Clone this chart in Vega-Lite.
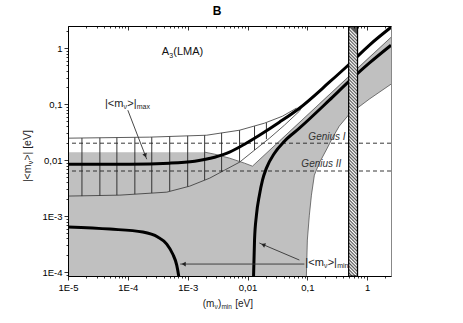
{
  "$schema": "https://vega.github.io/schema/vega-lite/v6.json",
  "width": 323,
  "height": 250,
  "autosize": "none",
  "padding": {"left": 68, "top": 26, "right": 72, "bottom": 47},
  "background": "white",
  "config": {"view": {"stroke": "#888", "strokeWidth": 1}, "font": "Liberation Sans"},
  "resolve": {"axis": {"x": "independent", "y": "independent"}},
  "datasets": {
    "gray": [
      {"m": 1e-5, "top": 0.0139, "bot": 8e-5},
      {"m": 0.00192, "top": 0.0139, "bot": 8e-5},
      {"m": 0.00282, "top": 0.0128, "bot": 8e-5},
      {"m": 0.00501, "top": 0.01086, "bot": 8e-5},
      {"m": 0.00891, "top": 0.00884, "bot": 8e-5},
      {"m": 0.0121, "top": 0.00781, "bot": 8e-5},
      {"m": 0.0233, "top": 0.01503, "bot": 8e-5},
      {"m": 0.0501, "top": 0.0324, "bot": 8e-5},
      {"m": 0.0962, "top": 0.0623, "bot": 8e-5},
      {"m": 0.1, "top": 0.0647, "bot": 0.000373},
      {"m": 0.108, "top": 0.07, "bot": 0.00104},
      {"m": 0.117, "top": 0.0756, "bot": 0.00237},
      {"m": 0.131, "top": 0.0849, "bot": 0.0054},
      {"m": 0.158, "top": 0.1025, "bot": 0.00884},
      {"m": 0.215, "top": 0.1395, "bot": 0.0164},
      {"m": 0.261, "top": 0.169, "bot": 0.0247},
      {"m": 0.341, "top": 0.221, "bot": 0.0405},
      {"m": 0.501, "top": 0.3255, "bot": 0.0663},
      {"m": 1.08, "top": 0.702, "bot": 0.123},
      {"m": 2.5, "top": 1.57, "bot": 0.228}
    ],
    "grayTop": [
      {"m": 0.00192, "y": 0.0139},
      {"m": 0.00282, "y": 0.0128},
      {"m": 0.00501, "y": 0.01086},
      {"m": 0.00891, "y": 0.00884},
      {"m": 0.0121, "y": 0.00781},
      {"m": 2.5, "y": 1.57}
    ],
    "grayBot": [
      {"m": 0.0962, "y": 8e-5},
      {"m": 0.1, "y": 0.000373},
      {"m": 0.108, "y": 0.00104},
      {"m": 0.117, "y": 0.00237},
      {"m": 0.131, "y": 0.0054},
      {"m": 0.158, "y": 0.00884},
      {"m": 0.215, "y": 0.0164},
      {"m": 0.261, "y": 0.0247},
      {"m": 0.341, "y": 0.0405},
      {"m": 0.501, "y": 0.0663},
      {"m": 1.08, "y": 0.123},
      {"m": 2.5, "y": 0.228}
    ],
    "hatch": [
      {"m": 1.71e-5, "lo": 0.00228, "hi": 0.0249},
      {"m": 3.41e-5, "lo": 0.00231, "hi": 0.0251},
      {"m": 6.56e-5, "lo": 0.00237, "hi": 0.0253},
      {"m": 0.000131, "lo": 0.00247, "hi": 0.0255},
      {"m": 0.000251, "lo": 0.00258, "hi": 0.0258},
      {"m": 0.000501, "lo": 0.00279, "hi": 0.0265},
      {"m": 0.001, "lo": 0.00336, "hi": 0.0272},
      {"m": 0.00192, "lo": 0.0044, "hi": 0.0279},
      {"m": 0.00369, "lo": 0.0062, "hi": 0.0307},
      {"m": 0.00736, "lo": 0.0092, "hi": 0.0343},
      {"m": 0.0131, "lo": 0.0151, "hi": 0.0405},
      {"m": 0.0207, "lo": 0.0237, "hi": 0.0466}
    ],
    "invUp": [
      {"m": 1e-5, "y": 0.0247},
      {"m": 0.000233, "y": 0.0258},
      {"m": 0.00207, "y": 0.0279},
      {"m": 0.00736, "y": 0.0343},
      {"m": 0.0192, "y": 0.0458},
      {"m": 0.0383, "y": 0.061},
      {"m": 0.0656, "y": 0.0849}
    ],
    "invLo": [
      {"m": 1e-5, "y": 0.00228},
      {"m": 7.36e-5, "y": 0.00237},
      {"m": 0.000447, "y": 0.00268},
      {"m": 0.00108, "y": 0.00343},
      {"m": 0.00233, "y": 0.00477},
      {"m": 0.00414, "y": 0.00663},
      {"m": 0.00736, "y": 0.0092},
      {"m": 0.0131, "y": 0.0151},
      {"m": 0.0233, "y": 0.0247},
      {"m": 0.0414, "y": 0.0422},
      {"m": 0.0736, "y": 0.075},
      {"m": 0.0826, "y": 0.092}
    ],
    "upper": [
      {"m": 1e-5, "y": 0.00849},
      {"m": 0.000108, "y": 0.00849},
      {"m": 0.000501, "y": 0.00884},
      {"m": 0.00131, "y": 0.0096},
      {"m": 0.00282, "y": 0.0113},
      {"m": 0.00501, "y": 0.0139},
      {"m": 0.00891, "y": 0.0193},
      {"m": 0.0158, "y": 0.0279},
      {"m": 0.0341, "y": 0.0477},
      {"m": 0.0736, "y": 0.0849},
      {"m": 0.233, "y": 0.247},
      {"m": 0.501, "y": 0.518},
      {"m": 1.08, "y": 1.13},
      {"m": 2.5, "y": 2.37}
    ],
    "second": [
      {"m": 0.0126, "y": 8e-5},
      {"m": 0.0131, "y": 0.000373},
      {"m": 0.0141, "y": 0.00104},
      {"m": 0.0158, "y": 0.00237},
      {"m": 0.0178, "y": 0.0044},
      {"m": 0.0207, "y": 0.0072},
      {"m": 0.0282, "y": 0.0133},
      {"m": 0.0414, "y": 0.0218},
      {"m": 0.0736, "y": 0.0373},
      {"m": 0.233, "y": 0.118},
      {"m": 0.501, "y": 0.258},
      {"m": 1.08, "y": 0.54},
      {"m": 2.5, "y": 1.13}
    ],
    "lower": [
      {"m": 1e-5, "y": 0.00064},
      {"m": 5.01e-5, "y": 0.000586},
      {"m": 0.000178, "y": 0.000518},
      {"m": 0.000316, "y": 0.000422},
      {"m": 0.000447, "y": 0.000316},
      {"m": 0.000562, "y": 0.00021},
      {"m": 0.000656, "y": 0.000133},
      {"m": 0.000708, "y": 8.5e-5},
      {"m": 0.000725, "y": 7e-5}
    ],
    "genius": [{"y": 0.0201}, {"y": 0.0064}],
    "band": [{"m1": 0.49, "m2": 0.69, "y1": 8.5e-5, "y2": 2.5}],
    "arrows": [
      {"m1": 0.0001, "y1": 0.0781, "m2": 0.000207, "y2": 0.0104},
      {"m1": 0.0891, "y1": 0.000139, "m2": 0.00075, "y2": 0.000139},
      {"m1": 0.0736, "y1": 0.000164, "m2": 0.0158, "y2": 0.00033}
    ],
    "h1": [{"m": 0.000196, "y": 0.0121}],
    "h2": [{"m": 0.000858, "y": 0.000139}],
    "h3": [{"m": 0.0183, "y": 0.000308}],
    "amax": [{"m": 4.14e-5, "y": 0.1}],
    "amin": [{"m": 0.0926, "y": 0.000145}],
    "alma": [{"m": 0.000369, "y": 0.849}],
    "g1": [{"m": 0.104, "y": 0.0257}],
    "g2": [{"m": 0.0794, "y": 0.00849}],
    "xt": [{"m": 0.00178, "y": 8.5e-5}],
    "yt": [{"m": 1e-5, "y": 0.00405}],
    "ttl": [{"m": 0.00309, "y": 2.5}]
  },
  "layer": [
    {
      "data": {"name": "gray"},
      "mark": {"type": "area", "color": "#c0c0c0", "clip": true},
      "encoding": {
        "x": {"field": "m", "type": "quantitative",
          "scale": {"type": "log", "domain": [1e-5, 2.5], "nice": false},
          "axis": {"orient": "bottom", "title": null, "grid": false, "zindex": 2,
            "values": [0.00001, 0.0001, 0.001, 0.01, 0.1, 1],
            "labelExpr": "datum.value >= 0.01 ? replace(format(datum.value, ''), '.', ',') : '1E' + round(log(datum.value)/LN10)",
            "tickSize": 4, "labelFont": "Liberation Sans", "labelFontSize": 9.5, "labelColor": "#000",
            "labelFlush": false, "labelOverlap": false, "labelBound": false, "labelPadding": 2,
            "domainColor": "#000", "tickColor": "#000", "tickWidth": 0.8, "domainWidth": 1}},
        "y": {"field": "top", "type": "quantitative",
          "scale": {"type": "log", "domain": [8.5e-5, 2.5], "nice": false},
          "axis": {"orient": "left", "title": null, "grid": false, "zindex": 2,
            "values": [0.0001, 0.001, 0.01, 0.1, 1],
            "labelExpr": "datum.value >= 0.01 ? replace(format(datum.value, ''), '.', ',') : '1E' + round(log(datum.value)/LN10)",
            "tickSize": 4, "labelFont": "Liberation Sans", "labelFontSize": 9.5, "labelColor": "#000",
            "labelFlush": false, "labelOverlap": false, "labelBound": false, "labelPadding": 2,
            "domainColor": "#000", "tickColor": "#000", "tickWidth": 0.8, "domainWidth": 1}},
        "y2": {"field": "bot"}
      }
    },
    {
      "data": {"name": "hatch"},
      "mark": {"type": "rule", "color": "#222", "strokeWidth": 0.9, "clip": true},
      "encoding": {
        "x": {"field": "m", "type": "quantitative",
          "axis": {"orient": "top", "title": null, "grid": false, "labels": false, "zindex": 2,
            "values": [0.00001, 0.0001, 0.001, 0.01, 0.1, 1],
            "tickSize": -4, "domainColor": "#000", "tickColor": "#000", "tickWidth": 0.8, "domainWidth": 1}},
        "y": {"field": "lo", "type": "quantitative",
          "axis": {"orient": "left", "title": null, "grid": false, "labels": false, "domain": false, "zindex": 2,
            "values": [0.00009,0.0002,0.0003,0.0004,0.0005,0.0006,0.0007,0.0008,0.0009,0.002,0.003,0.004,0.005,0.006,0.007,0.008,0.009,0.02,0.03,0.04,0.05,0.06,0.07,0.08,0.09,0.2,0.3,0.4,0.5,0.6,0.7,0.8,0.9,2],
            "tickSize": 2, "tickColor": "#000", "tickWidth": 0.8}},
        "y2": {"field": "hi"}
      }
    },
    {
      "data": {"name": "invUp"},
      "mark": {"type": "line", "color": "#333", "strokeWidth": 0.8, "clip": true},
      "encoding": {
        "x": {"field": "m", "type": "quantitative",
          "axis": {"orient": "bottom", "title": null, "grid": false, "labels": false, "domain": false, "zindex": 2,
            "values": [0.00002,0.00003,0.00004,0.00005,0.00006,0.00007,0.00008,0.00009,0.0002,0.0003,0.0004,0.0005,0.0006,0.0007,0.0008,0.0009,0.002,0.003,0.004,0.005,0.006,0.007,0.008,0.009,0.02,0.03,0.04,0.05,0.06,0.07,0.08,0.09,0.2,0.3,0.4,0.5,0.6,0.7,0.8,0.9,2],
            "tickSize": 2, "tickColor": "#000", "tickWidth": 0.8}},
        "y": {"field": "y", "type": "quantitative", "axis": null}
      }
    },
    {
      "data": {"name": "invLo"},
      "mark": {"type": "line", "color": "#333", "strokeWidth": 0.8, "clip": true},
      "encoding": {
        "x": {"field": "m", "type": "quantitative",
          "axis": {"orient": "top", "title": null, "grid": false, "labels": false, "domain": false, "zindex": 2,
            "values": [0.00002,0.00003,0.00004,0.00005,0.00006,0.00007,0.00008,0.00009,0.0002,0.0003,0.0004,0.0005,0.0006,0.0007,0.0008,0.0009,0.002,0.003,0.004,0.005,0.006,0.007,0.008,0.009,0.02,0.03,0.04,0.05,0.06,0.07,0.08,0.09,0.2,0.3,0.4,0.5,0.6,0.7,0.8,0.9,2],
            "tickSize": -2, "tickColor": "#000", "tickWidth": 0.8}},
        "y": {"field": "y", "type": "quantitative", "axis": null}
      }
    },
    {
      "data": {"name": "grayTop"},
      "mark": {"type": "line", "color": "#555", "strokeWidth": 0.8, "clip": true},
      "encoding": {"x": {"field": "m", "type": "quantitative", "axis": null}, "y": {"field": "y", "type": "quantitative", "axis": null}}
    },
    {
      "data": {"name": "grayBot"},
      "mark": {"type": "line", "color": "#555", "strokeWidth": 0.8, "clip": true},
      "encoding": {"x": {"field": "m", "type": "quantitative", "axis": null}, "y": {"field": "y", "type": "quantitative", "axis": null}}
    },
    {
      "data": {"name": "genius"},
      "mark": {"type": "rule", "color": "#222", "strokeWidth": 0.9, "strokeDash": [4, 3]},
      "encoding": {"y": {"field": "y", "type": "quantitative", "axis": null}}
    },
    {
      "data": {"name": "upper"},
      "mark": {"type": "line", "color": "#000", "strokeWidth": 3, "clip": true, "interpolate": "monotone"},
      "encoding": {"x": {"field": "m", "type": "quantitative", "axis": null}, "y": {"field": "y", "type": "quantitative", "axis": null}}
    },
    {
      "data": {"name": "second"},
      "mark": {"type": "line", "color": "#000", "strokeWidth": 3, "clip": true, "interpolate": "monotone"},
      "encoding": {"x": {"field": "m", "type": "quantitative", "axis": null}, "y": {"field": "y", "type": "quantitative", "axis": null}}
    },
    {
      "data": {"name": "lower"},
      "mark": {"type": "line", "color": "#000", "strokeWidth": 3, "clip": true, "interpolate": "monotone"},
      "encoding": {"x": {"field": "m", "type": "quantitative", "axis": null}, "y": {"field": "y", "type": "quantitative", "axis": null}}
    },
    {
      "data": {"name": "band"},
      "mark": {"type": "rect", "stroke": "#000", "strokeWidth": 1.2, "clip": true,
        "fill": {"gradient": "linear", "x1": 0, "y1": 1, "x2": 0.036, "y2": 0, "stops": [
{"offset":0,"color":"#555"},{"offset":0.0067,"color":"#fff"},{"offset":0.0133,"color":"#555"},{"offset":0.02,"color":"#fff"},{"offset":0.0267,"color":"#555"},{"offset":0.0333,"color":"#fff"},{"offset":0.04,"color":"#555"},{"offset":0.0467,"color":"#fff"},{"offset":0.0533,"color":"#555"},{"offset":0.06,"color":"#fff"},
{"offset":0.0667,"color":"#555"},{"offset":0.0733,"color":"#fff"},{"offset":0.08,"color":"#555"},{"offset":0.0867,"color":"#fff"},{"offset":0.0933,"color":"#555"},{"offset":0.1,"color":"#fff"},{"offset":0.1067,"color":"#555"},{"offset":0.1133,"color":"#fff"},{"offset":0.12,"color":"#555"},{"offset":0.1267,"color":"#fff"},
{"offset":0.1333,"color":"#555"},{"offset":0.14,"color":"#fff"},{"offset":0.1467,"color":"#555"},{"offset":0.1533,"color":"#fff"},{"offset":0.16,"color":"#555"},{"offset":0.1667,"color":"#fff"},{"offset":0.1733,"color":"#555"},{"offset":0.18,"color":"#fff"},{"offset":0.1867,"color":"#555"},{"offset":0.1933,"color":"#fff"},
{"offset":0.2,"color":"#555"},{"offset":0.2067,"color":"#fff"},{"offset":0.2133,"color":"#555"},{"offset":0.22,"color":"#fff"},{"offset":0.2267,"color":"#555"},{"offset":0.2333,"color":"#fff"},{"offset":0.24,"color":"#555"},{"offset":0.2467,"color":"#fff"},{"offset":0.2533,"color":"#555"},{"offset":0.26,"color":"#fff"},
{"offset":0.2667,"color":"#555"},{"offset":0.2733,"color":"#fff"},{"offset":0.28,"color":"#555"},{"offset":0.2867,"color":"#fff"},{"offset":0.2933,"color":"#555"},{"offset":0.3,"color":"#fff"},{"offset":0.3067,"color":"#555"},{"offset":0.3133,"color":"#fff"},{"offset":0.32,"color":"#555"},{"offset":0.3267,"color":"#fff"},
{"offset":0.3333,"color":"#555"},{"offset":0.34,"color":"#fff"},{"offset":0.3467,"color":"#555"},{"offset":0.3533,"color":"#fff"},{"offset":0.36,"color":"#555"},{"offset":0.3667,"color":"#fff"},{"offset":0.3733,"color":"#555"},{"offset":0.38,"color":"#fff"},{"offset":0.3867,"color":"#555"},{"offset":0.3933,"color":"#fff"},
{"offset":0.4,"color":"#555"},{"offset":0.4067,"color":"#fff"},{"offset":0.4133,"color":"#555"},{"offset":0.42,"color":"#fff"},{"offset":0.4267,"color":"#555"},{"offset":0.4333,"color":"#fff"},{"offset":0.44,"color":"#555"},{"offset":0.4467,"color":"#fff"},{"offset":0.4533,"color":"#555"},{"offset":0.46,"color":"#fff"},
{"offset":0.4667,"color":"#555"},{"offset":0.4733,"color":"#fff"},{"offset":0.48,"color":"#555"},{"offset":0.4867,"color":"#fff"},{"offset":0.4933,"color":"#555"},{"offset":0.5,"color":"#fff"},{"offset":0.5067,"color":"#555"},{"offset":0.5133,"color":"#fff"},{"offset":0.52,"color":"#555"},{"offset":0.5267,"color":"#fff"},
{"offset":0.5333,"color":"#555"},{"offset":0.54,"color":"#fff"},{"offset":0.5467,"color":"#555"},{"offset":0.5533,"color":"#fff"},{"offset":0.56,"color":"#555"},{"offset":0.5667,"color":"#fff"},{"offset":0.5733,"color":"#555"},{"offset":0.58,"color":"#fff"},{"offset":0.5867,"color":"#555"},{"offset":0.5933,"color":"#fff"},
{"offset":0.6,"color":"#555"},{"offset":0.6067,"color":"#fff"},{"offset":0.6133,"color":"#555"},{"offset":0.62,"color":"#fff"},{"offset":0.6267,"color":"#555"},{"offset":0.6333,"color":"#fff"},{"offset":0.64,"color":"#555"},{"offset":0.6467,"color":"#fff"},{"offset":0.6533,"color":"#555"},{"offset":0.66,"color":"#fff"},
{"offset":0.6667,"color":"#555"},{"offset":0.6733,"color":"#fff"},{"offset":0.68,"color":"#555"},{"offset":0.6867,"color":"#fff"},{"offset":0.6933,"color":"#555"},{"offset":0.7,"color":"#fff"},{"offset":0.7067,"color":"#555"},{"offset":0.7133,"color":"#fff"},{"offset":0.72,"color":"#555"},{"offset":0.7267,"color":"#fff"},
{"offset":0.7333,"color":"#555"},{"offset":0.74,"color":"#fff"},{"offset":0.7467,"color":"#555"},{"offset":0.7533,"color":"#fff"},{"offset":0.76,"color":"#555"},{"offset":0.7667,"color":"#fff"},{"offset":0.7733,"color":"#555"},{"offset":0.78,"color":"#fff"},{"offset":0.7867,"color":"#555"},{"offset":0.7933,"color":"#fff"},
{"offset":0.8,"color":"#555"},{"offset":0.8067,"color":"#fff"},{"offset":0.8133,"color":"#555"},{"offset":0.82,"color":"#fff"},{"offset":0.8267,"color":"#555"},{"offset":0.8333,"color":"#fff"},{"offset":0.84,"color":"#555"},{"offset":0.8467,"color":"#fff"},{"offset":0.8533,"color":"#555"},{"offset":0.86,"color":"#fff"},
{"offset":0.8667,"color":"#555"},{"offset":0.8733,"color":"#fff"},{"offset":0.88,"color":"#555"},{"offset":0.8867,"color":"#fff"},{"offset":0.8933,"color":"#555"},{"offset":0.9,"color":"#fff"},{"offset":0.9067,"color":"#555"},{"offset":0.9133,"color":"#fff"},{"offset":0.92,"color":"#555"},{"offset":0.9267,"color":"#fff"},
{"offset":0.9333,"color":"#555"},{"offset":0.94,"color":"#fff"},{"offset":0.9467,"color":"#555"},{"offset":0.9533,"color":"#fff"},{"offset":0.96,"color":"#555"},{"offset":0.9667,"color":"#fff"},{"offset":0.9733,"color":"#555"},{"offset":0.98,"color":"#fff"},{"offset":0.9867,"color":"#555"},{"offset":0.9933,"color":"#fff"},
{"offset":1,"color":"#555"}]}},
      "encoding": {
        "x": {"field": "m1", "type": "quantitative", "axis": null},
        "x2": {"field": "m2"},
        "y": {"field": "y1", "type": "quantitative", "axis": null},
        "y2": {"field": "y2"}
      }
    },
    {
      "data": {"name": "arrows"},
      "mark": {"type": "rule", "color": "#333", "strokeWidth": 0.9},
      "encoding": {
        "x": {"field": "m1", "type": "quantitative", "axis": null},
        "x2": {"field": "m2"},
        "y": {"field": "y1", "type": "quantitative", "axis": null},
        "y2": {"field": "y2"}
      }
    },
    {
      "data": {"name": "h1"},
      "mark": {"type": "point", "shape": "triangle-up", "filled": true, "size": 22, "color": "#222", "opacity": 1, "angle": 159},
      "encoding": {"x": {"field": "m", "type": "quantitative", "axis": null}, "y": {"field": "y", "type": "quantitative", "axis": null}}
    },
    {
      "data": {"name": "h2"},
      "mark": {"type": "point", "shape": "triangle-up", "filled": true, "size": 22, "color": "#222", "opacity": 1, "angle": 270},
      "encoding": {"x": {"field": "m", "type": "quantitative", "axis": null}, "y": {"field": "y", "type": "quantitative", "axis": null}}
    },
    {
      "data": {"name": "h3"},
      "mark": {"type": "point", "shape": "triangle-up", "filled": true, "size": 22, "color": "#222", "opacity": 1, "angle": 293},
      "encoding": {"x": {"field": "m", "type": "quantitative", "axis": null}, "y": {"field": "y", "type": "quantitative", "axis": null}}
    },
    {
      "data": {"name": "ttl"},
      "mark": {"type": "text", "text": "B", "align": "center", "baseline": "middle", "fontSize": 12, "fontWeight": "bold", "font": "Liberation Sans", "color": "#000", "dy": -15},
      "encoding": {"x": {"field": "m", "type": "quantitative", "axis": null}, "y": {"field": "y", "type": "quantitative", "axis": null}}
    },
    {
      "data": {"name": "alma"},
      "mark": {"type": "text", "text": "A", "align": "left", "baseline": "middle", "fontSize": 11, "font": "Liberation Sans", "color": "#111"},
      "encoding": {"x": {"field": "m", "type": "quantitative", "axis": null}, "y": {"field": "y", "type": "quantitative", "axis": null}}
    },
    {
      "data": {"name": "alma"},
      "mark": {"type": "text", "text": "3", "align": "left", "baseline": "middle", "fontSize": 7, "font": "Liberation Sans", "color": "#111", "dx": 7.5, "dy": 3.5},
      "encoding": {"x": {"field": "m", "type": "quantitative", "axis": null}, "y": {"field": "y", "type": "quantitative", "axis": null}}
    },
    {
      "data": {"name": "alma"},
      "mark": {"type": "text", "text": "(LMA)", "align": "left", "baseline": "middle", "fontSize": 11, "font": "Liberation Sans", "color": "#111", "dx": 11.5},
      "encoding": {"x": {"field": "m", "type": "quantitative", "axis": null}, "y": {"field": "y", "type": "quantitative", "axis": null}}
    },
    {
      "data": {"name": "amax"},
      "mark": {"type": "text", "text": "|<m", "align": "left", "baseline": "middle", "fontSize": 11, "font": "Liberation Sans", "color": "#222"},
      "encoding": {"x": {"field": "m", "type": "quantitative", "axis": null}, "y": {"field": "y", "type": "quantitative", "axis": null}}
    },
    {
      "data": {"name": "amax"},
      "mark": {"type": "text", "text": "ν", "align": "left", "baseline": "middle", "fontSize": 7, "font": "Liberation Sans", "color": "#222", "dx": 18.6, "dy": 3},
      "encoding": {"x": {"field": "m", "type": "quantitative", "axis": null}, "y": {"field": "y", "type": "quantitative", "axis": null}}
    },
    {
      "data": {"name": "amax"},
      "mark": {"type": "text", "text": ">|", "align": "left", "baseline": "middle", "fontSize": 11, "font": "Liberation Sans", "color": "#222", "dx": 22.3},
      "encoding": {"x": {"field": "m", "type": "quantitative", "axis": null}, "y": {"field": "y", "type": "quantitative", "axis": null}}
    },
    {
      "data": {"name": "amax"},
      "mark": {"type": "text", "text": "max", "align": "left", "baseline": "middle", "fontSize": 7, "font": "Liberation Sans", "color": "#222", "dx": 31.8, "dy": 3},
      "encoding": {"x": {"field": "m", "type": "quantitative", "axis": null}, "y": {"field": "y", "type": "quantitative", "axis": null}}
    },
    {
      "data": {"name": "amin"},
      "mark": {"type": "text", "text": "|<m", "align": "left", "baseline": "middle", "fontSize": 11, "font": "Liberation Sans", "color": "#222"},
      "encoding": {"x": {"field": "m", "type": "quantitative", "axis": null}, "y": {"field": "y", "type": "quantitative", "axis": null}}
    },
    {
      "data": {"name": "amin"},
      "mark": {"type": "text", "text": "ν", "align": "left", "baseline": "middle", "fontSize": 7, "font": "Liberation Sans", "color": "#222", "dx": 18.6, "dy": 3},
      "encoding": {"x": {"field": "m", "type": "quantitative", "axis": null}, "y": {"field": "y", "type": "quantitative", "axis": null}}
    },
    {
      "data": {"name": "amin"},
      "mark": {"type": "text", "text": ">|", "align": "left", "baseline": "middle", "fontSize": 11, "font": "Liberation Sans", "color": "#222", "dx": 22.3},
      "encoding": {"x": {"field": "m", "type": "quantitative", "axis": null}, "y": {"field": "y", "type": "quantitative", "axis": null}}
    },
    {
      "data": {"name": "amin"},
      "mark": {"type": "text", "text": "min", "align": "left", "baseline": "middle", "fontSize": 7, "font": "Liberation Sans", "color": "#222", "dx": 31.8, "dy": 3},
      "encoding": {"x": {"field": "m", "type": "quantitative", "axis": null}, "y": {"field": "y", "type": "quantitative", "axis": null}}
    },
    {
      "data": {"name": "g1"},
      "mark": {"type": "text", "text": "Genius I", "align": "left", "baseline": "middle", "fontSize": 10, "fontStyle": "italic", "font": "Liberation Sans", "color": "#333"},
      "encoding": {"x": {"field": "m", "type": "quantitative", "axis": null}, "y": {"field": "y", "type": "quantitative", "axis": null}}
    },
    {
      "data": {"name": "g2"},
      "mark": {"type": "text", "text": "Genius II", "align": "left", "baseline": "middle", "fontSize": 10, "fontStyle": "italic", "font": "Liberation Sans", "color": "#333"},
      "encoding": {"x": {"field": "m", "type": "quantitative", "axis": null}, "y": {"field": "y", "type": "quantitative", "axis": null}}
    },
    {
      "data": {"name": "xt"},
      "mark": {"type": "text", "text": "(m", "align": "left", "baseline": "middle", "fontSize": 10, "font": "Liberation Sans", "color": "#222", "dy": 28},
      "encoding": {"x": {"field": "m", "type": "quantitative", "axis": null}, "y": {"field": "y", "type": "quantitative", "axis": null}}
    },
    {
      "data": {"name": "xt"},
      "mark": {"type": "text", "text": "ν", "align": "left", "baseline": "middle", "fontSize": 6.5, "font": "Liberation Sans", "color": "#222", "dx": 11.8, "dy": 31},
      "encoding": {"x": {"field": "m", "type": "quantitative", "axis": null}, "y": {"field": "y", "type": "quantitative", "axis": null}}
    },
    {
      "data": {"name": "xt"},
      "mark": {"type": "text", "text": ")", "align": "left", "baseline": "middle", "fontSize": 10, "font": "Liberation Sans", "color": "#222", "dx": 15.3, "dy": 28},
      "encoding": {"x": {"field": "m", "type": "quantitative", "axis": null}, "y": {"field": "y", "type": "quantitative", "axis": null}}
    },
    {
      "data": {"name": "xt"},
      "mark": {"type": "text", "text": "min", "align": "left", "baseline": "middle", "fontSize": 6.5, "font": "Liberation Sans", "color": "#222", "dx": 18.8, "dy": 31},
      "encoding": {"x": {"field": "m", "type": "quantitative", "axis": null}, "y": {"field": "y", "type": "quantitative", "axis": null}}
    },
    {
      "data": {"name": "xt"},
      "mark": {"type": "text", "text": "[eV]", "align": "left", "baseline": "middle", "fontSize": 10, "font": "Liberation Sans", "color": "#222", "dx": 32.5, "dy": 28},
      "encoding": {"x": {"field": "m", "type": "quantitative", "axis": null}, "y": {"field": "y", "type": "quantitative", "axis": null}}
    },
    {
      "data": {"name": "yt"},
      "mark": {"type": "text", "text": "|<m", "align": "left", "baseline": "middle", "fontSize": 10.5, "font": "Liberation Sans", "color": "#222", "angle": 270, "dy": -40},
      "encoding": {"x": {"field": "m", "type": "quantitative", "axis": null}, "y": {"field": "y", "type": "quantitative", "axis": null}}
    },
    {
      "data": {"name": "yt"},
      "mark": {"type": "text", "text": "ν", "align": "left", "baseline": "middle", "fontSize": 7, "font": "Liberation Sans", "color": "#222", "angle": 270, "dx": 17.8, "dy": -37},
      "encoding": {"x": {"field": "m", "type": "quantitative", "axis": null}, "y": {"field": "y", "type": "quantitative", "axis": null}}
    },
    {
      "data": {"name": "yt"},
      "mark": {"type": "text", "text": ">| [eV]", "align": "left", "baseline": "middle", "fontSize": 10.5, "font": "Liberation Sans", "color": "#222", "angle": 270, "dx": 21.5, "dy": -40},
      "encoding": {"x": {"field": "m", "type": "quantitative", "axis": null}, "y": {"field": "y", "type": "quantitative", "axis": null}}
    }
  ]
}
